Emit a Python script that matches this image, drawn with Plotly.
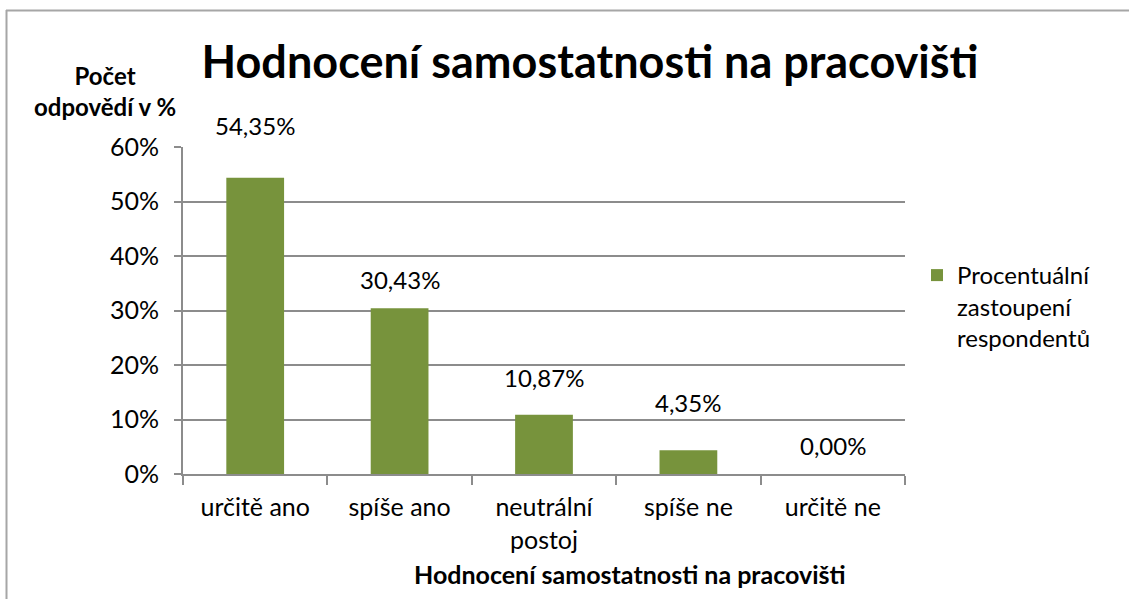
import plotly.graph_objects as go

categories = ["určitě ano", "spíše ano", "neutrální<br>postoj", "spíše ne", "určitě ne"]
values = [54.35, 30.43, 10.87, 4.35, 0.00]
series_name = "Procentuální<br>zastoupení<br>respondentů"
y_ticks = [0, 10, 20, 30, 40, 50, 60]
y_tick_text = [f"{t}%" for t in y_ticks]
# vertical offset (px) of each data label above its bar, as placed in the original
label_shift = [52, 29, 37, 48, 29]

W, H = 1129, 599
L, R, T, B = 183, 224, 147, 125
pw, ph = W - L - R, H - T - B

def px_x(p):
    return (p - L) / pw

def px_y(p):
    return (H - B - p) / ph

FONT = "Lato"
BAR = "#77933C"
GRID = "#8C8C8C"

fig = go.Figure()
fig.add_trace(go.Bar(
    x=categories, y=values, name=series_name,
    marker=dict(color=BAR, line=dict(width=0)),
    showlegend=True,
))

for c, v, s in zip(categories, values, label_shift):
    fig.add_annotation(x=c, y=v, xref="x", yref="y",
                       text=f"{v:.2f}".replace(".", ",") + "%",
                       showarrow=False, yshift=s,
                       font=dict(family=FONT, size=24, color="#000000"))

# y-axis title (two lines)
fig.add_annotation(xref="paper", yref="paper", x=px_x(105), y=px_y(91),
                   text="<b>Počet<br>odpovědí v %</b>", showarrow=False,
                   xanchor="center", yanchor="middle", align="center",
                   font=dict(family=FONT, size=24, color="#000000"))
# x-axis title
fig.add_annotation(xref="paper", yref="paper", x=px_x(630), y=px_y(574),
                   text="<b>Hodnocení samostatnosti na pracovišti</b>", showarrow=False,
                   xanchor="center", yanchor="middle",
                   font=dict(family=FONT, size=25, color="#000000"))

# outer chart border (top and left)
fig.add_shape(type="line", xref="paper", yref="paper",
              x0=px_x(6), y0=px_y(10.5), x1=px_x(1129), y1=px_y(10.5),
              line=dict(color="#A6A6A6", width=2))
fig.add_shape(type="line", xref="paper", yref="paper",
              x0=px_x(6.5), y0=px_y(10), x1=px_x(6.5), y1=px_y(599),
              line=dict(color="#A6A6A6", width=2))

fig.update_layout(
    width=W, height=H,
    margin=dict(l=L, r=R, t=T, b=B, autoexpand=False),
    paper_bgcolor="white", plot_bgcolor="white",
    bargap=0.6,
    title=dict(text="<b>Hodnocení samostatnosti na pracovišti</b>",
               x=590 / W, y=1 - 62 / H, xref="container", yref="container",
               xanchor="center", yanchor="middle",
               font=dict(family=FONT, size=45, color="#000000")),
    font=dict(family=FONT, color="#000000"),
    legend=dict(x=px_x(917), y=px_y(253), xanchor="left", yanchor="top",
                valign="top",
                font=dict(family=FONT, size=24, color="#000000"),
                itemwidth=30, bgcolor="rgba(0,0,0,0)"),
    xaxis=dict(showline=True, linecolor=GRID, linewidth=2,
               ticks="outside", tickson="boundaries", ticklen=9, tickcolor=GRID, tickwidth=2,
               ticklabelstandoff=10,
               tickfont=dict(family=FONT, size=25, color="#000000"),
               showgrid=False),
    yaxis=dict(range=[0, 60], tickvals=y_ticks, ticktext=y_tick_text,
               showline=True, linecolor=GRID, linewidth=2,
               ticks="outside", ticklen=7, tickcolor=GRID, tickwidth=2,
               ticklabelstandoff=10,
               showgrid=True, gridcolor=GRID, gridwidth=2,
               zeroline=False,
               tickfont=dict(family=FONT, size=25, color="#000000")),
)

fig.write_html("out.html", config={"displayModeBar": False},
               post_script="document.body.style.margin='0';document.body.style.padding='0';")
